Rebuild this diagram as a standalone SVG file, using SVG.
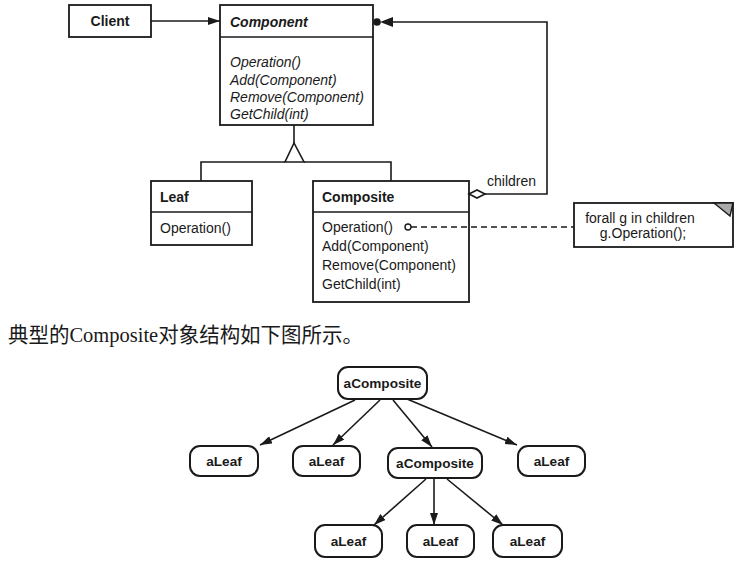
<svg xmlns="http://www.w3.org/2000/svg" width="739" height="564" viewBox="0 0 739 564">
<style>
.box{fill:#fff;stroke:#1a1a1a;stroke-width:1.8}
.obj{fill:#fff;stroke:#1a1a1a;stroke-width:2}
.ln{fill:none;stroke:#1a1a1a;stroke-width:1.6}
.t{font-family:"Liberation Sans",Arial,sans-serif;font-size:14px;fill:#1a1a1a}
.b{font-weight:bold}
.i{font-style:italic}
.ob{font-family:"Liberation Sans",Arial,sans-serif;font-size:13.6px;font-weight:bold;fill:#1a1a1a;text-anchor:middle}
.cap{font-family:"Liberation Serif","Noto Sans CJK SC",serif;font-size:21px;fill:#1a1a1a}
</style>
<defs>
<marker id="ah" markerWidth="12" markerHeight="8" refX="12" refY="4" orient="auto" markerUnits="userSpaceOnUse">
<path d="M0,0 L12,4 L0,8 Z" fill="#1a1a1a"/>
</marker>
</defs>

<g id="client">
<rect class="box" x="69" y="5" width="82" height="32"/>
<text class="t b" x="110" y="26" text-anchor="middle">Client</text>
</g>

<g id="component">
<rect class="box" x="220" y="5" width="153" height="120"/>
<line class="ln" x1="220" y1="37" x2="373" y2="37"/>
<text class="t b i" x="230" y="27">Component</text>
<text class="t i" x="230" y="67">Operation()</text>
<text class="t i" x="230" y="85">Add(Component)</text>
<text class="t i" x="230" y="102">Remove(Component)</text>
<text class="t i" x="230" y="119">GetChild(int)</text>
</g>

<g id="leaf">
<rect class="box" x="151" y="181" width="101" height="64"/>
<line class="ln" x1="151" y1="212" x2="252" y2="212"/>
<text class="t b" x="160" y="202">Leaf</text>
<text class="t" x="160" y="233">Operation()</text>
</g>

<g id="composite">
<rect class="box" x="313" y="181" width="156" height="121"/>
<line class="ln" x1="313" y1="212" x2="469" y2="212"/>
<text class="t b" x="322" y="202">Composite</text>
<text class="t" x="322" y="232">Operation()</text>
<text class="t" x="322" y="251">Add(Component)</text>
<text class="t" x="322" y="270">Remove(Component)</text>
<text class="t" x="322" y="289">GetChild(int)</text>
</g>

<g id="children-label">
<text class="t" x="487" y="186">children</text>
</g>

<g id="note">
<rect class="box" x="574" y="203" width="159" height="44" stroke-width="1.5"/>
<path d="M714,203 L733,203 L730,216 Z" fill="#aaa" stroke="#1a1a1a" stroke-width="1.4"/>
<text class="t" x="640" y="223" text-anchor="middle">forall g in children</text>
<text class="t" x="643" y="238" text-anchor="middle">g.Operation();</text>
</g>

<g id="caption">
<text class="cap" x="8" y="342" textLength="355" lengthAdjust="spacingAndGlyphs">典型的Composite对象结构如下图所示。</text>
</g>

<g id="obj-root">
<rect class="obj" x="338" y="367" width="89" height="32" rx="10"/>
<text class="ob" x="382.5" y="388">aComposite</text>
</g>
<g id="obj-leaf1">
<rect class="obj" x="190" y="446" width="68" height="30" rx="10"/>
<text class="ob" x="224" y="466">aLeaf</text>
</g>
<g id="obj-leaf2">
<rect class="obj" x="293" y="446" width="67" height="30" rx="10"/>
<text class="ob" x="326.5" y="466">aLeaf</text>
</g>
<g id="obj-comp2">
<rect class="obj" x="388" y="448" width="94" height="30" rx="10"/>
<text class="ob" x="435" y="468">aComposite</text>
</g>
<g id="obj-leaf3">
<rect class="obj" x="518" y="446" width="67" height="30" rx="10"/>
<text class="ob" x="551.5" y="466">aLeaf</text>
</g>
<g id="obj-leaf4">
<rect class="obj" x="315" y="525" width="67" height="32" rx="10"/>
<text class="ob" x="348.5" y="546">aLeaf</text>
</g>
<g id="obj-leaf5">
<rect class="obj" x="407" y="525" width="67" height="32" rx="10"/>
<text class="ob" x="440.5" y="546">aLeaf</text>
</g>
<g id="obj-leaf6">
<rect class="obj" x="493" y="525" width="69" height="32" rx="10"/>
<text class="ob" x="527.5" y="546">aLeaf</text>
</g>

<g id="connectors">
<line class="ln" x1="151" y1="21" x2="220" y2="21" marker-end="url(#ah)"/>
<path class="ln" d="M485,194 H547 V22 H392"/>
<path d="M380,22 L393,17 L393,27 Z" fill="#1a1a1a"/>
<circle cx="377" cy="22" r="3.8" fill="#1a1a1a"/>
<path d="M469,194 L477,190 L485,194 L477,198 Z" fill="#fff" stroke="#1a1a1a" stroke-width="1.6"/>
<line class="ln" x1="294" y1="125" x2="294" y2="143"/>
<path d="M294,143 L285,162 L304,162 Z" fill="#fff" stroke="#1a1a1a" stroke-width="1.6"/>
<path class="ln" d="M201,181 V162 H285 M304,162 H391 V181"/>
<circle cx="408" cy="227" r="3" fill="#fff" stroke="#1a1a1a" stroke-width="1.4"/>
<line class="ln" x1="411" y1="227" x2="574" y2="227" stroke-dasharray="6,4" stroke-width="1.4"/>
<line class="ln" x1="355" y1="400" x2="260" y2="445" marker-end="url(#ah)"/>
<line class="ln" x1="380" y1="400" x2="333" y2="445" marker-end="url(#ah)"/>
<line class="ln" x1="393" y1="400" x2="432" y2="447" marker-end="url(#ah)"/>
<line class="ln" x1="407" y1="399" x2="517" y2="445" marker-end="url(#ah)"/>
<line class="ln" x1="426" y1="479" x2="374" y2="525" marker-end="url(#ah)"/>
<line class="ln" x1="434" y1="479" x2="434" y2="525" marker-end="url(#ah)"/>
<line class="ln" x1="447" y1="479" x2="503" y2="525" marker-end="url(#ah)"/>
</g>
</svg>
